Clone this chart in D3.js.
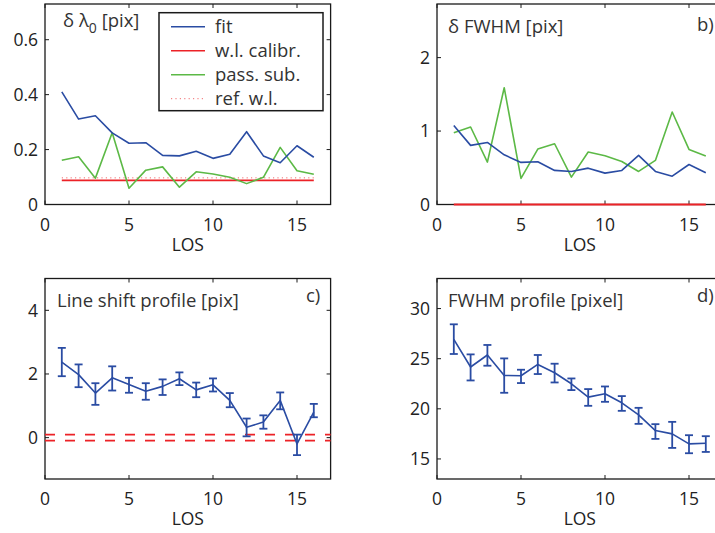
<!DOCTYPE html>
<html>
<head>
<meta charset="utf-8">
<script src="https://cdn.jsdelivr.net/npm/d3@7"></script>
<style>
  body { margin: 0; background: #fff; }
  svg { font-family: "Open Sans", "Noto Sans", sans-serif; }
  .tick-label { font-size: 17.5px; fill: #222; }
  .ttl { font-size: 18.5px; fill: #333; }
</style>
</head>
<body>
<div id="chart"></div>
<script>
// LOS index, shared by all panels
var los = [1, 2, 3, 4, 5, 6, 7, 8, 9, 10, 11, 12, 13, 14, 15, 16];
var xTicks = [0, 5, 10, 15];

// a) delta lambda0 [pix]
var aFit  = [0.41, 0.311, 0.323, 0.261, 0.223, 0.225, 0.179, 0.177, 0.194, 0.168, 0.183, 0.265, 0.177, 0.152, 0.214, 0.172];
var aPass = [0.161, 0.174, 0.096, 0.261, 0.059, 0.125, 0.137, 0.063, 0.119, 0.111, 0.099, 0.076, 0.099, 0.208, 0.123, 0.110];
var aCalib = 0.088;
var aRef = 0.097;
var aTicks = [0, 0.2, 0.4, 0.6];

// b) delta FWHM [pix]
var bFit  = [1.077, 0.805, 0.845, 0.677, 0.573, 0.582, 0.464, 0.45, 0.495, 0.427, 0.464, 0.668, 0.45, 0.386, 0.545, 0.432];
var bPass = [0.977, 1.055, 0.577, 1.59, 0.355, 0.755, 0.827, 0.373, 0.714, 0.664, 0.586, 0.45, 0.6, 1.259, 0.75, 0.659];
var bCalib = 0;
var bTicks = [0, 1, 2];

// c) line shift profile [pix]
var cVal = [2.37, 1.98, 1.40, 1.88, 1.67, 1.46, 1.61, 1.85, 1.50, 1.66, 1.17, 0.325, 0.49, 1.17, -0.20, 0.80];
var cHi  = [2.82, 2.30, 1.71, 2.24, 1.88, 1.71, 1.83, 2.05, 1.73, 1.86, 1.40, 0.60, 0.70, 1.42, 0.095, 1.06];
var cLo  = [1.93, 1.585, 1.03, 1.48, 1.41, 1.19, 1.34, 1.65, 1.27, 1.45, 0.955, 0.04, 0.28, 0.89, -0.55, 0.64];
var cRef = [0.095, -0.095];
var cTicks = [0, 2, 4];

// d) FWHM profile [pixel]
var dVal = [26.93, 24.17, 25.37, 23.33, 23.3, 24.43, 23.6, 22.5, 21.17, 21.5, 20.6, 19.4, 17.83, 17.5, 16.5, 16.57];
var dHi  = [28.43, 25.43, 26.37, 25.03, 23.9, 25.37, 24.5, 23.03, 21.97, 22.23, 21.27, 20.1, 18.47, 18.7, 17.37, 17.27];
var dLo  = [25.47, 22.83, 24.3, 21.6, 22.57, 23.47, 22.63, 21.87, 20.3, 20.7, 19.8, 18.5, 17.0, 16.1, 15.57, 15.7];
var dTicks = [15, 20, 25, 30];

var blue = '#2a4ca3', red = '#ec2227', green = '#5cb946';

var svg = d3.select('#chart').append('svg')
  .attr('width', 715).attr('height', 533);

var pw = 285.6, ph = 200.5;

function panel(left, top, ydom, yticks) {
  var g = svg.append('g').attr('transform', 'translate(' + left + ',' + top + ')');
  var x = d3.scaleLinear().domain([0, 17]).range([0, pw]);
  var y = d3.scaleLinear().domain(ydom).range([ph, 0]);
  var p = { g: g, x: x, y: y };

  // axes box with inward ticks on all sides
  var box = g.append('g');
  box.append('rect').attr('width', pw).attr('height', ph)
    .attr('fill', 'none').attr('stroke', '#1a1a1a').attr('stroke-width', 1.3);
  xTicks.forEach(function (t) {
    box.append('line').attr('x1', x(t)).attr('x2', x(t)).attr('y1', ph).attr('y2', ph - 4);
    box.append('line').attr('x1', x(t)).attr('x2', x(t)).attr('y1', 0).attr('y2', 4);
  });
  yticks.forEach(function (t) {
    box.append('line').attr('x1', 0).attr('x2', 4).attr('y1', y(t)).attr('y2', y(t));
    box.append('line').attr('x1', pw).attr('x2', pw - 4).attr('y1', y(t)).attr('y2', y(t));
  });
  box.selectAll('line').attr('stroke', '#1a1a1a').attr('stroke-width', 1);

  g.selectAll('.xl').data(xTicks).enter().append('text')
    .attr('class', 'tick-label')
    .attr('x', function (d) { return x(d); })
    .attr('y', ph + 26)
    .attr('text-anchor', 'middle')
    .text(function (d) { return d; });
  g.selectAll('.yl').data(yticks).enter().append('text')
    .attr('class', 'tick-label')
    .attr('x', -7)
    .attr('y', function (d) { return y(d); })
    .attr('dy', '0.36em')
    .attr('text-anchor', 'end')
    .text(function (d) { return d; });
  g.append('text').attr('class', 'tick-label')
    .attr('x', pw / 2).attr('y', ph + 46)
    .attr('text-anchor', 'middle').text('LOS');
  return p;
}

function linePath(p, vals, color, w) {
  var line = d3.line().x(function (d, i) { return p.x(los[i]); }).y(function (d) { return p.y(d); });
  p.g.append('path').datum(vals).attr('d', line)
    .attr('fill', 'none').attr('stroke', color).attr('stroke-width', w || 1.6)
    .attr('stroke-linejoin', 'round');
}

function hline(p, v, color, w, dash) {
  var l = p.g.append('line')
    .attr('x1', p.x(los[0])).attr('x2', p.x(los[los.length - 1]))
    .attr('y1', p.y(v)).attr('y2', p.y(v))
    .attr('stroke', color).attr('stroke-width', w);
  if (dash) l.attr('stroke-dasharray', dash);
  return l;
}

function errorbars(p, vals, hi, lo) {
  var cap = 4;
  var eb = p.g.append('g').attr('stroke', blue).attr('stroke-width', 1.8);
  los.forEach(function (L, i) {
    var xx = p.x(L);
    eb.append('line').attr('x1', xx).attr('x2', xx).attr('y1', p.y(hi[i])).attr('y2', p.y(lo[i]));
    eb.append('line').attr('x1', xx - cap).attr('x2', xx + cap).attr('y1', p.y(hi[i])).attr('y2', p.y(hi[i]));
    eb.append('line').attr('x1', xx - cap).attr('x2', xx + cap).attr('y1', p.y(lo[i])).attr('y2', p.y(lo[i]));
  });
  linePath(p, vals, blue, 1.6);
}

// ---- panel a
var pa = panel(45, 4, [0, 0.73], aTicks);
hline(pa, aCalib, red, 1.6);
hline(pa, aRef, red, 1, '1.2,3.2').attr('stroke', '#f26a6d');
linePath(pa, aPass, green);
linePath(pa, aFit, blue);

var tA = pa.g.append('text').attr('class', 'ttl').attr('x', 18).attr('y', 23);
tA.append('tspan').text('\u03B4 \u03BB');
tA.append('tspan').attr('dy', 6).attr('font-size', '14px').text('0');
tA.append('tspan').attr('dy', -6).text(' [pix]');
pa.g.append('text').attr('class', 'ttl').attr('x', 256).attr('y', 27).text('a)');

// legend
var lg = pa.g.append('g').attr('transform', 'translate(114,8.7)');
lg.append('rect').attr('width', 164).attr('height', 98)
  .attr('fill', '#fff').attr('stroke', '#1a1a1a').attr('stroke-width', 1.5);
var legItems = [
  { name: 'fit', color: blue, dash: null },
  { name: 'w.l. calibr.', color: red, dash: null },
  { name: 'pass. sub.', color: green, dash: null },
  { name: 'ref. w.l.', color: '#f26a6d', dash: '1.2,3.2' }
];
legItems.forEach(function (it, i) {
  var yy = 14 + i * 24;
  var l = lg.append('line').attr('x1', 12).attr('x2', 46).attr('y1', yy).attr('y2', yy)
    .attr('stroke', it.color).attr('stroke-width', it.dash ? 1 : 1.6);
  if (it.dash) l.attr('stroke-dasharray', it.dash);
  lg.append('text').attr('class', 'ttl').attr('x', 56).attr('y', yy).attr('dy', '0.36em').text(it.name);
});

// ---- panel b
var pb = panel(437, 4, [0, 2.73], bTicks);
hline(pb, bCalib, red, 2.2);
linePath(pb, bPass, green);
linePath(pb, bFit, blue);
pb.g.append('text').attr('class', 'ttl').attr('x', 11).attr('y', 29).text('\u03B4 FWHM [pix]');
pb.g.append('text').attr('class', 'ttl').attr('x', 260).attr('y', 27).text('b)');

// ---- panel c
var pc = panel(45, 278.5, [-1.3, 5], cTicks);
cRef.forEach(function (v) {
  pc.g.append('line')
    .attr('x1', 0).attr('x2', pw).attr('y1', pc.y(v)).attr('y2', pc.y(v))
    .attr('stroke', red).attr('stroke-width', 1.8).attr('stroke-dasharray', '10,10');
});
errorbars(pc, cVal, cHi, cLo);
pc.g.append('text').attr('class', 'ttl').attr('x', 12).attr('y', 28).text('Line shift profile [pix]');
pc.g.append('text').attr('class', 'ttl').attr('x', 261).attr('y', 23).text('c)');

// ---- panel d
var pd = panel(437, 278.5, [13, 33], dTicks);
errorbars(pd, dVal, dHi, dLo);
pd.g.append('text').attr('class', 'ttl').attr('x', 11).attr('y', 28).text('FWHM profile [pixel]');
pd.g.append('text').attr('class', 'ttl').attr('x', 260).attr('y', 23).text('d)');
</script>
</body>
</html>
